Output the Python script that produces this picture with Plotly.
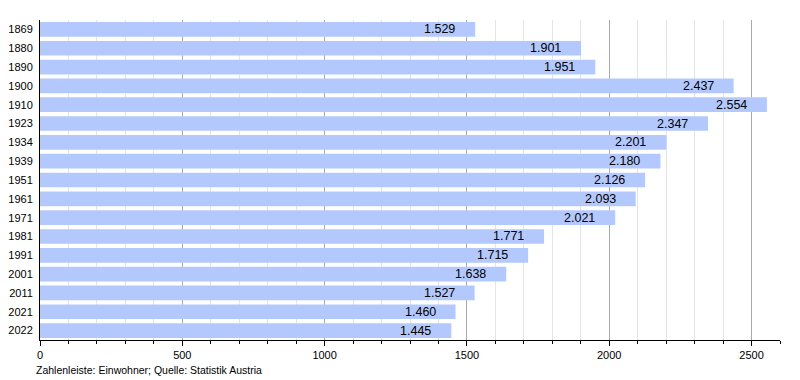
import plotly.graph_objects as go

years = ["1869", "1880", "1890", "1900", "1910", "1923", "1934", "1939", "1951",
         "1961", "1971", "1981", "1991", "2001", "2011", "2021", "2022"]
population = [1529, 1901, 1951, 2437, 2554, 2347, 2201, 2180, 2126,
              2093, 2021, 1771, 1715, 1638, 1527, 1460, 1445]
labels = [f"{v:,}".replace(",", ".") for v in population]

fig = go.Figure(go.Bar(
    x=population, y=years, orientation="h",
    marker=dict(color="#b3c9fd", line=dict(width=0)),
    hoverinfo="x+y",
))

# category axis: annotation y uses the category index
annotations = [dict(x=v, y=i, xref="x", yref="y", text=t, showarrow=False,
                    xanchor="right", yanchor="middle", xshift=-18,
                    font=dict(size=12.5, color="black", family="Liberation Sans"))
               for i, (v, t) in enumerate(zip(population, labels))]
annotations.append(dict(text="Zahlenleiste: Einwohner; Quelle: Statistik Austria",
                        xref="paper", yref="paper", x=-0.008, y=-0.07,
                        xanchor="left", yanchor="top", showarrow=False,
                        font=dict(size=10.5, family="Liberation Sans")))

fig.update_layout(
    width=800, height=380,
    margin=dict(l=32, r=28, t=12, b=48),
    paper_bgcolor="white", plot_bgcolor="white",
    font=dict(family="Liberation Sans", size=11, color="black"),
    bargap=0.22, showlegend=False,
    annotations=annotations,
)
fig.update_xaxes(
    range=[0, 2600], dtick=500, tick0=0, showgrid=True, gridcolor="#aaaaaa",
    gridwidth=1, zeroline=False, showline=True, linecolor="black", linewidth=1,
    ticks="outside", ticklen=5, tickcolor="black",
    minor=dict(dtick=100, showgrid=True, gridcolor="#e4e4e4", ticks="outside",
               ticklen=3, tickcolor="black"),
    tickfont=dict(size=11), automargin=False,
)
fig.update_yaxes(
    type="category", categoryorder="array", categoryarray=years,
    range=[len(years) - 0.5, -0.5], showline=True, linecolor="black", linewidth=1,
    showgrid=False, ticks="", tickfont=dict(size=11), ticklabelstandoff=4,
    automargin=False,
)

fig.write_html("out.html")
